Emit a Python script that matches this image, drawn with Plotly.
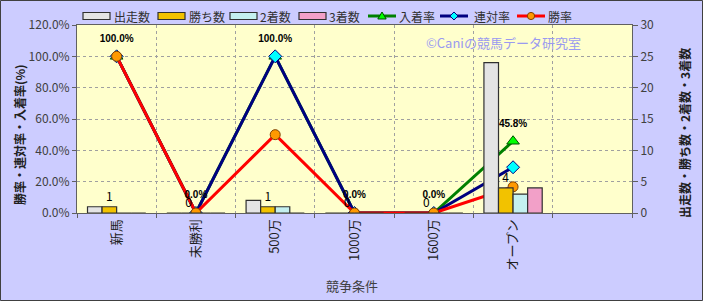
import plotly.graph_objects as go

# ---- data ----
categories = ["新馬", "未勝利", "500万", "1000万", "1600万", "オープン"]
axis_slots = categories + [" "]
runs = [1, 0, 2, 0, 0, 24]
wins = [1, 0, 1, 0, 0, 4]
seconds = [0, 0, 1, 0, 0, 3]
thirds = [0, 0, 0, 0, 0, 4]
win_rate = [1.0, 0.0, 0.5, 0.0, 0.0, 0.167]
rentai_rate = [1.0, 0.0, 1.0, 0.0, 0.0, 0.292]
place_rate = [1.0, 0.0, 1.0, 0.0, 0.0, 0.458]
wins_labels = [str(v) for v in wins]
place_labels = ["%.1f%%" % (v * 100) for v in place_rate]
bar_names = ["出走数", "勝ち数", "2着数", "3着数"]
line_names = ["入着率", "連対率", "勝率"]

W, H = 703, 301
L, R, T, B = 77, 71, 25, 88
PW, PH = W - L - R, H - T - B

JP = "Noto Sans CJK JP"

BAR_COLORS = ["#E4E4E4", "#F2C200", "#C4F0F0", "#F2A0C8"]
LINE_COLORS = ["#008000", "#000080", "#FF0000"]
MARKER_FILL = ["#00FF00", "#00FFFF", "#FF9900"]
MARKER_EDGE = ["#005000", "#000080", "#804000"]


def px(x):
    return (x - L) / PW


def py(y):
    return (H - B - y) / PH


fig = go.Figure()

# rate lines (primary axis, drawn below the bars)
symbols = ["triangle-up", "diamond", "circle"]
sizes = [11, 10, 10]
for name, vals, col, fill, edge, sym, sz in zip(
        line_names, [place_rate, rentai_rate, win_rate], LINE_COLORS,
        MARKER_FILL, MARKER_EDGE, symbols, sizes):
    fig.add_trace(go.Scatter(
        x=categories, y=vals, name=name, mode="lines+markers",
        line=dict(color=col, width=3),
        marker=dict(symbol=sym, size=sz, color=fill, line=dict(color=edge, width=1)),
    ))

# labels of 入着率
fig.add_trace(go.Scatter(
    x=categories, y=place_rate, mode="markers+text", text=place_labels,
    textposition="top center", hoverinfo="skip",
    marker=dict(size=18, opacity=0),
    textfont=dict(family="Liberation Sans", size=10, color="#000000", weight="bold"),
))

bar_line = dict(color="#303030", width=1.2)
for name, vals, col in zip(bar_names, [runs, wins, seconds, thirds], BAR_COLORS):
    kw = {}
    if name == "勝ち数":
        kw = dict(text=wins_labels, textposition="outside",
                  textfont=dict(family=JP, size=12, color="#000000"),
                  cliponaxis=False)
    fig.add_trace(go.Bar(x=categories, y=vals, name=name, yaxis="y2",
                         marker=dict(color=col, line=bar_line), **kw))

tickfont = dict(family=JP, size=12, color="#404040")

# ---- manual legend (matches the reference's wide swatches) ----
shapes = []
annotations = []
LEG_Y = 16
bar_sw_x = [83, 158, 230, 299]
bar_tx_x = [112, 187, 258, 327]
for name, col, x0, tx in zip(bar_names, BAR_COLORS, bar_sw_x, bar_tx_x):
    shapes.append(dict(type="rect", xref="paper", yref="paper",
                       x0=px(x0), x1=px(x0 + 27), y0=py(LEG_Y + 3.5), y1=py(LEG_Y - 3.5),
                       fillcolor=col, line=dict(color="#303030", width=1.2)))
    annotations.append(dict(text=name, xref="paper", yref="paper", x=px(tx), y=py(LEG_Y),
                            xanchor="left", yanchor="middle", showarrow=False,
                            font=dict(family=JP, size=12, color="#303030")))
line_sw_x = [368, 440, 517]
line_tx_x = [397, 472, 546]
for i, (name, x0, tx) in enumerate(zip(line_names, line_sw_x, line_tx_x)):
    shapes.append(dict(type="line", xref="paper", yref="paper",
                       x0=px(x0), x1=px(x0 + 28), y0=py(LEG_Y), y1=py(LEG_Y),
                       line=dict(color=LINE_COLORS[i], width=3)))
    cx = x0 + 14
    r = 3.6
    if i == 0:
        path = "M %f %f L %f %f L %f %f Z" % (px(cx), py(LEG_Y - 4), px(cx + 4.2), py(LEG_Y + 3),
                                              px(cx - 4.2), py(LEG_Y + 3))
        shapes.append(dict(type="path", xref="paper", yref="paper", path=path,
                           fillcolor=MARKER_FILL[i], line=dict(color=MARKER_EDGE[i], width=1)))
    elif i == 1:
        path = "M %f %f L %f %f L %f %f L %f %f Z" % (px(cx), py(LEG_Y - 4), px(cx + 4), py(LEG_Y),
                                                      px(cx), py(LEG_Y + 4), px(cx - 4), py(LEG_Y))
        shapes.append(dict(type="path", xref="paper", yref="paper", path=path,
                           fillcolor=MARKER_FILL[i], line=dict(color=MARKER_EDGE[i], width=1)))
    else:
        shapes.append(dict(type="circle", xref="paper", yref="paper",
                           x0=px(cx - r), x1=px(cx + r), y0=py(LEG_Y + r), y1=py(LEG_Y - r),
                           fillcolor=MARKER_FILL[i], line=dict(color=MARKER_EDGE[i], width=1)))
    annotations.append(dict(text=name, xref="paper", yref="paper", x=px(tx), y=py(LEG_Y),
                            xanchor="left", yanchor="middle", showarrow=False,
                            font=dict(family=JP, size=12, color="#303030")))

annotations += [
    dict(text="勝率・連対率・入着率(%)", xref="paper", yref="paper",
         x=px(19), y=py(135), xanchor="center", yanchor="middle",
         textangle=-90, showarrow=False,
         font=dict(family=JP, size=12, color="#202020", weight="bold")),
    dict(text="出走数・勝ち数・2着数・3着数", xref="paper", yref="paper",
         x=px(684), y=py(133), xanchor="center", yanchor="middle",
         textangle=-90, showarrow=False,
         font=dict(family=JP, size=12, color="#202020", weight="bold")),
    dict(text="競争条件", xref="paper", yref="paper",
         x=px(352), y=py(285), xanchor="center", yanchor="middle", showarrow=False,
         font=dict(family=JP, size=13, color="#404040")),
    dict(text="©Caniの競馬データ研究室", xref="paper", yref="paper",
         x=px(503), y=py(43), xanchor="center", yanchor="middle", showarrow=False,
         font=dict(family=JP, size=13, color="#9A9AF0")),
]
shapes.append(dict(type="rect", xref="paper", yref="paper",
                   x0=px(0.5), x1=px(W - 0.5), y0=py(H - 0.5), y1=py(0.5),
                   line=dict(color="#404040", width=1), fillcolor="rgba(0,0,0,0)",
                   layer="above"))

fig.update_layout(
    width=W, height=H,
    margin=dict(l=L, r=R, t=T, b=B, pad=0),
    paper_bgcolor="#CCCCFF",
    plot_bgcolor="#FFFFCC",
    barmode="group", bargap=0.265, bargroupgap=0,
    font=dict(family=JP, size=12, color="#303030"),
    showlegend=False,
    xaxis=dict(
        type="category", categoryorder="array", categoryarray=axis_slots,
        range=[-0.5, 6.5], tickson="boundaries", ticks="outside", ticklen=4,
        tickcolor="#606060", tickangle=-90, tickfont=dict(family=JP, size=13, color="#202020"),
        showgrid=True, gridcolor="#A0A0A0", griddash="dot", gridwidth=1,
        showline=True, linecolor="#606060", linewidth=1, mirror=True,
    ),
    yaxis=dict(
        range=[0, 1.2], dtick=0.2, tickformat=".1%", ticks="outside", ticklen=4,
        tickcolor="#606060", tickfont=tickfont,
        showgrid=True, gridcolor="#A0A0A0", griddash="dot", gridwidth=1,
        showline=True, linecolor="#606060", linewidth=1, mirror=True,
        zeroline=False,
    ),
    yaxis2=dict(
        range=[0, 30], dtick=5, overlaying="y", side="right", ticks="outside",
        ticklen=5, tickcolor="#606060", tickfont=tickfont, showgrid=False,
        zeroline=False, showline=True, linecolor="#606060", linewidth=1,
    ),
    annotations=annotations,
    shapes=shapes,
)

fig.write_html("out.html")
